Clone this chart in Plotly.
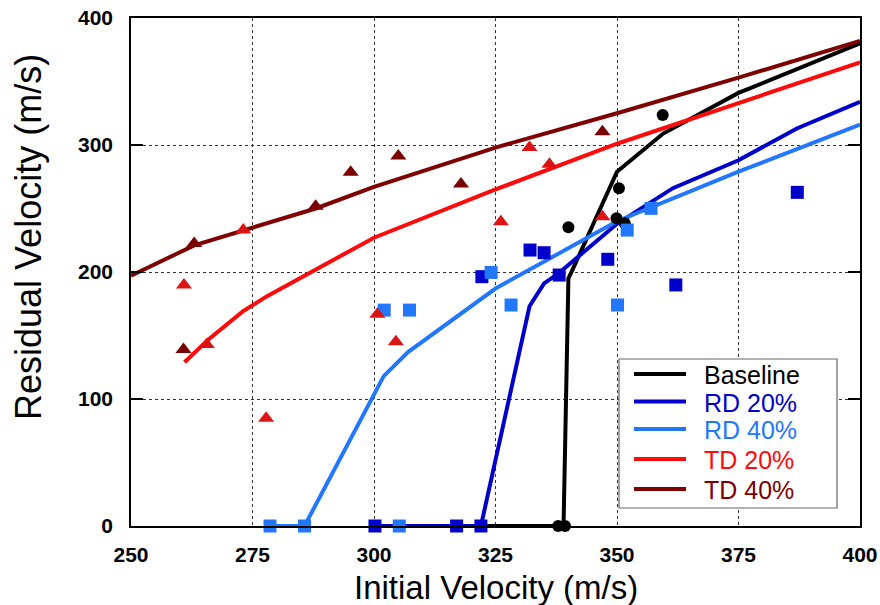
import plotly.graph_objects as go

# ---- data ----
baseline_line_x = [322, 339, 340, 341, 350, 359.5, 375, 400]
baseline_line_y = [0, 0, 195, 203, 279, 309, 341, 380]
baseline_pts_x = [337.9, 339.3, 340.0, 349.9, 351.6, 350.4, 359.4]
baseline_pts_y = [0, 0, 235.3, 242.3, 238.3, 266.0, 323.6]

rd20_line_x = [300, 322, 332, 335, 338, 350, 361.5, 375, 387, 400]
rd20_line_y = [0, 0, 173, 191, 199, 238, 266, 288, 313, 334]
rd20_pts_x = [300.2, 317.0, 322.0, 322.2, 332.1, 335.0, 338.1, 348.1, 362.1, 387.1]
rd20_pts_y = [0, 0, 0, 196.3, 217.3, 215.2, 197.6, 210.0, 189.8, 262.7]

rd40_line_x = [278.6, 285.7, 302, 307, 325, 350, 375, 400]
rd40_line_y = [0, 0, 118, 137, 187, 240, 279, 316]
rd40_pts_x = [278.6, 285.7, 305.2, 302.1, 307.3, 324.1, 328.2, 350.1, 352.1, 357.0]
rd40_pts_y = [0, 0, 0, 170, 170, 199.7, 174, 174, 233, 250.1]

td20_line_x = [261, 266, 273, 278, 300, 325, 350, 375, 400]
td20_line_y = [129, 147, 169, 181, 227, 265, 301, 333, 365]
td20_pts_x = [260.9, 265.6, 273.1, 277.8, 300.7, 304.5, 326.1, 332.0, 336.1, 347.0]
td20_pts_y = [189.8, 143, 233, 84.8, 166.7, 145, 239.6, 298, 284.8, 243.6]

td40_line_x = [250, 263, 288, 300, 325, 350, 375, 400]
td40_line_y = [197, 221, 250, 267, 298, 325, 353, 382]
td40_pts_x = [260.8, 263.0, 288.0, 295.2, 305.0, 317.9, 347.0]
td40_pts_y = [139, 222.5, 251.7, 278.5, 291.3, 269.3, 310.5]

x_ticks = [250, 275, 300, 325, 350, 375, 400]
y_ticks = [0, 100, 200, 300, 400]

series_names = ["Baseline", "RD 20%", "RD 40%", "TD 20%", "TD 40%"]
line_colors = ["#000000", "#0000CC", "#2277FF", "#FF0A0A", "#7F0000"]
marker_colors = ["#000000", "#0000CC", "#2277FF", "#DC1414", "#7A0000"]
marker_symbols = ["circle", "square", "square", "triangle-up", "triangle-up"]
marker_sizes = [12, 13, 13, 14, 14]
lines_x = [baseline_line_x, rd20_line_x, rd40_line_x, td20_line_x, td40_line_x]
lines_y = [baseline_line_y, rd20_line_y, rd40_line_y, td20_line_y, td40_line_y]
pts_x = [baseline_pts_x, rd20_pts_x, rd40_pts_x, td20_pts_x, td40_pts_x]
pts_y = [baseline_pts_y, rd20_pts_y, rd40_pts_y, td20_pts_y, td40_pts_y]

# ---- layout geometry (page pixels; body margin removed below) ----
W, H = 880, 605
PLOT_L, PLOT_R, PLOT_T, PLOT_B = 131, 860, 18, 526
ML, MT = PLOT_L, PLOT_T
PW, PH = PLOT_R - PLOT_L, PLOT_B - PLOT_T
MR, MB = W - ML - PW, H - MT - PH


def px2paper_x(px):
    return (px - PLOT_L) / PW


def px2paper_y(py):
    return (PLOT_B - py) / PH


fig = go.Figure()
for i in range(5):
    fig.add_trace(go.Scatter(
        x=lines_x[i], y=lines_y[i], mode="lines", name=series_names[i],
        line=dict(color=line_colors[i], width=4),
        showlegend=False, hoverinfo="skip"))
for i in range(5):
    fig.add_trace(go.Scatter(
        x=pts_x[i], y=pts_y[i], mode="markers", name=series_names[i],
        marker=dict(symbol=marker_symbols[i], size=marker_sizes[i],
                    color=marker_colors[i], line=dict(width=0)),
        showlegend=False, cliponaxis=False))

font_family = "Arial, Liberation Sans, sans-serif"

# legend box drawn by hand to match the reference layout
shapes = [dict(type="rect", xref="paper", yref="paper",
               x0=px2paper_x(619), x1=px2paper_x(837),
               y0=px2paper_y(508), y1=px2paper_y(359),
               line=dict(color="#666666", width=1.2), fillcolor="white",
               layer="above")]
annotations = []
legend_rows = [374, 401.5, 429, 459, 489]
for i, ry in enumerate(legend_rows):
    shapes.append(dict(type="line", xref="paper", yref="paper",
                       x0=px2paper_x(634), x1=px2paper_x(686),
                       y0=px2paper_y(ry), y1=px2paper_y(ry),
                       line=dict(color=line_colors[i], width=4),
                       layer="above"))
    annotations.append(dict(text=series_names[i], xref="paper", yref="paper",
                            x=px2paper_x(702), y=px2paper_y(ry + 1),
                            xanchor="left", yanchor="middle", showarrow=False,
                            font=dict(size=25, family=font_family,
                                      color=line_colors[i])))

annotations += [
    dict(text="Initial Velocity (m/s)", xref="paper", yref="paper",
         x=0.5, y=px2paper_y(587), xanchor="center", yanchor="middle",
         showarrow=False, font=dict(size=33, family=font_family)),
    dict(text="Residual Velocity (m/s)", xref="paper", yref="paper",
         x=px2paper_x(28), y=px2paper_y(237), xanchor="center",
         yanchor="middle", textangle=-90, showarrow=False,
         font=dict(size=36, family=font_family)),
]

fig.update_layout(
    width=W, height=H,
    margin=dict(l=ML, r=MR, t=MT, b=MB, autoexpand=False),
    plot_bgcolor="white", paper_bgcolor="white",
    font=dict(family=font_family, color="black"),
    showlegend=False,
    shapes=shapes,
    annotations=annotations,
)
fig.update_xaxes(
    range=[250, 400], tickvals=x_ticks, ticktext=[str(v) for v in x_ticks],
    showgrid=True, gridcolor="#333333", griddash="dot", gridwidth=1,
    showline=True, linecolor="black", linewidth=1.5, mirror=True,
    ticks="", zeroline=False, automargin=False, ticklabeloverflow="allow",
    tickfont=dict(size=21, family=font_family, weight="bold"),
    ticklabelstandoff=9,
)
fig.update_yaxes(
    range=[0, 400], tickvals=y_ticks, ticktext=[str(v) for v in y_ticks],
    showgrid=True, gridcolor="#333333", griddash="dot", gridwidth=1,
    showline=True, linecolor="black", linewidth=1.5, mirror="allticks",
    ticks="inside", ticklen=12, tickcolor="black", tickwidth=1.5,
    zeroline=False, automargin=False, ticklabeloverflow="allow",
    tickfont=dict(size=21, family=font_family, weight="bold"),
    ticklabelstandoff=12,
)

fig.write_html(
    "out.html",
    config={"displayModeBar": False},
    post_script="document.body.style.margin='0';"
                "document.documentElement.style.overflow='hidden';",
)
